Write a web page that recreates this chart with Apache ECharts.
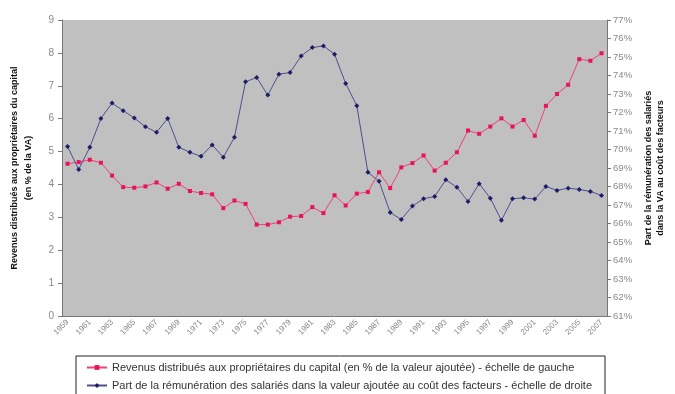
<!DOCTYPE html>
<html>
<head>
<meta charset="utf-8">
<script src="https://cdn.jsdelivr.net/npm/echarts@6/dist/echarts.min.js"></script>
<style>
  html, body { margin: 0; padding: 0; background: #fff; }
  #chart { width: 675px; height: 394px; }
</style>
</head>
<body>
<div id="chart"></div>
<script>
// Years 1959–2007
const years = [];
for (let y = 1959; y <= 2007; y++) years.push(String(y));

// Revenus distribués aux propriétaires du capital (% de la VA) – échelle de gauche
const revenusCapital = [
  4.63, 4.68, 4.75, 4.66, 4.27, 3.92, 3.90, 3.94, 4.06, 3.87,
  4.02, 3.80, 3.74, 3.70, 3.28, 3.51, 3.41, 2.78, 2.78, 2.85,
  3.02, 3.04, 3.31, 3.13, 3.67, 3.36, 3.72, 3.77, 4.37, 3.89,
  4.52, 4.65, 4.88, 4.42, 4.66, 4.98, 5.64, 5.54, 5.76, 6.01,
  5.76, 5.96, 5.48, 6.39, 6.75, 7.03, 7.81, 7.76, 7.99
];

// Part de la rémunération des salariés dans la VA (%) – échelle de droite
const partSalaires = [
  70.16, 68.92, 70.12, 71.68, 72.51, 72.10, 71.70, 71.23, 70.93, 71.68,
  70.12, 69.85, 69.63, 70.25, 69.58, 70.66, 73.66, 73.89, 72.94, 74.07,
  74.16, 75.06, 75.51, 75.60, 75.15, 73.57, 72.37, 68.77, 68.29, 66.59,
  66.22, 66.94, 67.34, 67.46, 68.36, 67.96, 67.19, 68.15, 67.37, 66.17,
  67.34, 67.39, 67.32, 68.00, 67.79, 67.91, 67.84, 67.73, 67.52
];

const nameRevenus = 'Revenus distribués aux propriétaires du capital (en % de la valeur ajoutée) - échelle de gauche';
const nameSalaires = 'Part de la rémunération des salariés dans la valeur ajoutée au coût des facteurs - échelle de droite';

const font = '"Liberation Sans", Arial, sans-serif';
const chart = echarts.init(document.getElementById('chart'), null, { renderer: 'canvas' });

chart.setOption({
  animation: false,
  textStyle: { fontFamily: font },
  grid: {
    left: 60, right: 56, top: 20, bottom: 78,
    show: true, backgroundColor: '#c0c0c0', borderWidth: 0
  },
  legend: {
    orient: 'vertical',
    left: 76, top: 356, height: 60,
    padding: [6, 13, 8, 10],
    itemGap: 7,
    itemWidth: 20, itemHeight: 6,
    borderColor: '#222', borderWidth: 1,
    textStyle: { fontFamily: font, fontSize: 11, color: '#333' },
    data: [nameRevenus, nameSalaires]
  },
  xAxis: {
    type: 'category',
    data: years,
    boundaryGap: true,
    axisLine: { lineStyle: { color: '#777', width: 1 } },
    axisTick: { interval: 0, length: 3, lineStyle: { color: '#777' } },
    axisLabel: { interval: 1, rotate: 45, fontSize: 8, color: '#888', margin: 5 }
  },
  yAxis: [
    {
      type: 'value', min: 0, max: 9, interval: 1, position: 'left',
      axisLine: { show: true, lineStyle: { color: '#777' } },
      axisTick: { show: true, length: 4, lineStyle: { color: '#777' } },
      splitLine: { show: false },
      axisLabel: { fontSize: 10, color: '#888', margin: 8 },
      name: 'Revenus distribués aux propriétaires du capital\n(en % de la VA)',
      nameLocation: 'middle', nameRotate: 90, nameGap: 26,
      nameTextStyle: { fontSize: 9, fontWeight: 'bold', color: '#111', lineHeight: 14 }
    },
    {
      type: 'value', min: 61, max: 77, interval: 1, position: 'right',
      axisLine: { show: true, lineStyle: { color: '#777' } },
      axisTick: { show: true, length: 4, lineStyle: { color: '#777' } },
      splitLine: { show: false },
      axisLabel: { fontSize: 9.5, color: '#888', margin: 6, formatter: '{value}%' },
      name: 'Part de la rémunération des salariés\ndans la VA au coût des facteurs',
      nameLocation: 'middle', nameRotate: 90, nameGap: 33,
      nameTextStyle: { fontSize: 9, fontWeight: 'bold', color: '#111', lineHeight: 12 }
    }
  ],
  series: [
    {
      name: nameRevenus,
      type: 'line',
      yAxisIndex: 0,
      data: revenusCapital,
      symbol: 'rect', symbolSize: 4,
      lineStyle: { color: '#f2416f', width: 1 },
      itemStyle: { color: '#e8145a' }
    },
    {
      name: nameSalaires,
      type: 'line',
      yAxisIndex: 1,
      data: partSalaires,
      symbol: 'diamond', symbolSize: 5,
      lineStyle: { color: '#4e4e92', width: 1 },
      itemStyle: { color: '#1c1c68' }
    }
  ]
});
</script>
</body>
</html>
